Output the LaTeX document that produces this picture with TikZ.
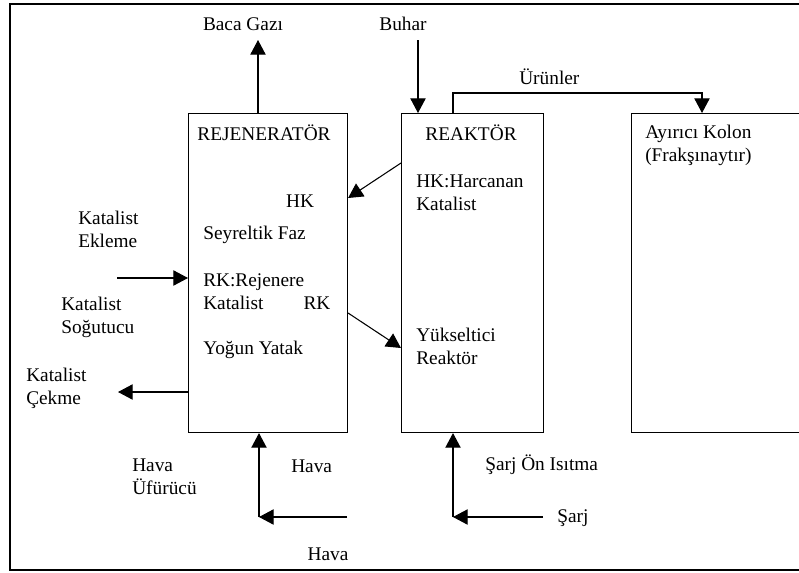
\documentclass[tikz,border=0pt]{standalone}
\usepackage{fontspec}
\setmainfont{Liberation Serif}
\usetikzlibrary{arrows.meta}
\usetikzlibrary{calc}
\tikzset{l/.style={font=\fontsize{14.5}{17.25}\selectfont,inner sep=0pt,align=left}}
\tikzset{b/.style={draw,line width=0.8pt,anchor=north west,inner sep=0pt,minimum height=239.25pt}}
\tikzset{ar/.style={line width=0.8pt,-{Triangle[length=11pt,width=11.5pt]}}}

\begin{document}
\begin{tikzpicture}[x=0.75pt,y=-0.75pt]
        \useasboundingbox (0,0) rectangle (799,572);
        \clip (0,0) rectangle (799,572);
        \draw[line width=1.6pt] (830,4) -- (10,4) -- (10,570) -- (830,570);
        % units
        \node[b,minimum width=119.25pt] (rej) at (188,113) {};
        \node[b,minimum width=106.5pt] (reak) at (401,113) {};
        \node[b,minimum width=150pt] (ayir) at (631,113) {};
        \node[l] (rejlab) at (264,133) {REJENERATÖR};
        \node[l] (reaklab) at (471,133) {REAKTÖR};
        \node[l,anchor=west] (ayirlab) at (645,145) {Ayırıcı Kolon\\(Frakşınaytır)};
        \node[l] (hk) at (300,201) {HK};
        \node[l,anchor=west] (seyr) at (203,235) {Seyreltik Faz};
        \node[l,anchor=west] (rkrej) at (203,291.5) {RK:Rejenere\\Katalist};
        \node[l] (rk) at (317,303) {RK};
        \node[l,anchor=west] (yogun) at (203,350) {Yoğun Yatak};
        \node[l,anchor=west] (harc) at (416,192.5) {HK:Harcanan\\Katalist};
        \node[l,anchor=west] (yuks) at (416,346.5) {Yükseltici\\Reaktör};
        % outside labels
        \node[l] (baca) at (243,24) {Baca Gazı};
        \node[l] (buhar) at (403,24) {Buhar};
        \node[l,anchor=west] (urun) at (519,77) {Ürünler};
        \node[l,anchor=west] (ekle) at (78,229) {Katalist\\Ekleme};
        \node[l,anchor=west] (sogut) at (61,317) {Katalist\\Soğutucu};
        \node[l,anchor=west] (cekme) at (26,388.5) {Katalist\\Çekme};
        \node[l,anchor=west] (ufur) at (132,477) {Hava\\Üfürücü};
        \node[l,anchor=west] (hava) at (291,466) {Hava};
        \node[l] (havaalt) at (328,554) {Hava};
        \node[l,anchor=west] (onis) at (485,465) {Şarj Ön Isıtma};
        \node[l,anchor=west] (sarj) at (557,518) {Şarj};
        % free ends
        \coordinate (bacaend) at (258,40);
        \coordinate (buharbas) at (418,40);
        \coordinate (urunup) at (453,93);
        \coordinate (urunend) at (702,93);
        \coordinate (ekbas) at (117,278);
        \coordinate (cekend) at (118,392);
        \coordinate (havabas) at (347,517);
        \coordinate (havakose) at (259,517);
        \coordinate (sarjbas) at (543,517);
        \coordinate (sarjkose) at (453,517);
        % streams
        \draw[ar] (rej.north -| bacaend) -- (bacaend);
        \draw[ar] (buharbas) -- (buharbas |- reak.north);
        \draw[ar] (reak.north -| urunup) -- (urunup) -- (urunend) -- (urunend |- ayir.north);
        \draw[ar] ($(reak.north west)+(0,50)$) -- ($(rej.north east)+(0,85)$);
        \draw[ar] ($(rej.north east)+(0,200)$) -- ($(reak.north west)+(0,235)$);
        \draw[ar] (ekbas) -- (ekbas -| rej.west);
        \draw[ar] (cekend -| rej.west) -- (cekend);
        \draw[ar] (havabas) -- (havakose);
        \draw[ar] (havakose) -- (havakose |- rej.south);
        \draw[ar] (sarjbas) -- (sarjkose);
        \draw[ar] (sarjkose) -- (sarjkose |- reak.south);
\end{tikzpicture}
\end{document}
